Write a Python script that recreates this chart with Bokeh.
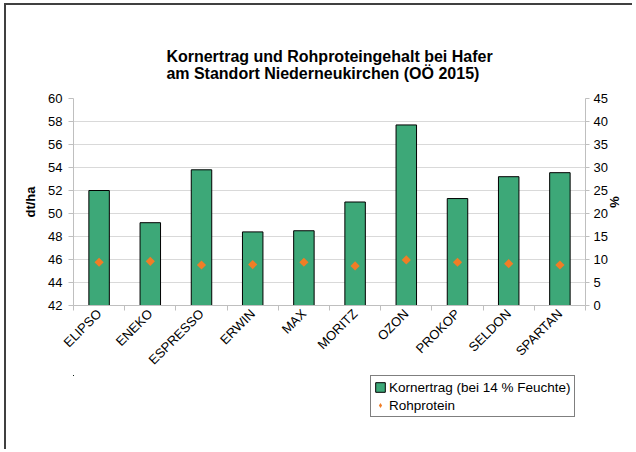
from bokeh.plotting import figure
from bokeh.layouts import column
from bokeh.models import (Range1d, LinearAxis, FixedTicker, Legend, LegendItem,
                          ColumnDataSource)
from bokeh.embed import file_html
from bokeh.resources import INLINE
import math

# ---- data ----
sorten = ["ELIPSO", "ENEKO", "ESPRESSO", "ERWIN", "MAX", "MORITZ", "OZON",
          "PROKOP", "SELDON", "SPARTAN"]
kornertrag = [52.0, 49.2, 53.8, 48.4, 48.5, 51.0, 57.7, 51.3, 53.2, 53.55]  # dt/ha
rohprotein = [9.4, 9.6, 8.8, 8.9, 9.4, 8.6, 9.9, 9.4, 9.1, 8.8]  # %
ertrag_ticks = [42, 44, 46, 48, 50, 52, 54, 56, 58, 60]
protein_ticks = [0, 5, 10, 15, 20, 25, 30, 35, 40, 45]
title_lines = ["Kornertrag und Rohproteingehalt bei Hafer",
               "am Standort Niederneukirchen (OÖ 2015)"]
legend_labels = ["Kornertrag (bei 14 % Feuchte)", "Rohprotein"]

FONT = "Liberation Sans"
GREEN = "#3DA878"
ORANGE = "#F07D26"
GRID = "#D9D9D9"
AXIS = "#BFBFBF"

n = len(sorten)
xpos = [i + 0.5 for i in range(n)]
src = ColumnDataSource(dict(x=xpos, ertrag=kornertrag, protein=rohprotein, name=sorten))

# ---------------- main chart ----------------
p = figure(frame_width=512, frame_height=207, output_backend="svg", toolbar_location=None,
           x_range=Range1d(0, n), y_range=Range1d(ertrag_ticks[0], ertrag_ticks[-1]),
           min_border_left=67, min_border_right=47, min_border_top=93,
           min_border_bottom=10)
p.extra_y_ranges = {"pct": Range1d(protein_ticks[0], protein_ticks[-1])}
p.outline_line_color = None
p.background_fill_color = "white"
p.border_fill_color = "white"

p.title.text = "\n".join(title_lines)
p.title.align = "center"
p.title.text_font = FONT
p.title.text_font_size = "16px"
p.title.text_font_style = "bold"
p.title.text_color = "black"
p.title.standoff = 33

bars = p.vbar(x="x", top="ertrag", bottom=ertrag_ticks[0], width=0.4, source=src,
              fill_color=GREEN, line_color="black", line_width=1)
dots = p.scatter(x="x", y="protein", y_range_name="pct", source=src,
                 marker="square", angle=math.pi / 4, size=6.5,
                 fill_color=ORANGE, line_color=None)

p.xgrid.visible = False
p.ygrid.ticker = FixedTicker(ticks=ertrag_ticks)
p.ygrid.grid_line_color = GRID
p.ygrid.grid_line_width = 1.2

def style_axis(ax):
    ax.axis_line_color = AXIS
    ax.major_tick_line_color = AXIS
    ax.minor_tick_line_color = AXIS
    ax.major_label_text_font = FONT
    ax.major_label_text_font_size = "13px"
    ax.major_label_text_color = "black"
    ax.axis_label_text_font = FONT
    ax.axis_label_text_font_size = "13px"
    ax.axis_label_text_font_style = "bold"
    ax.axis_label_text_color = "black"

ly = p.yaxis[0]
ly.ticker = FixedTicker(ticks=ertrag_ticks)
ly.axis_label = "dt/ha"
style_axis(ly)
ly.major_tick_in = 0
ly.major_tick_out = 5
ly.major_label_standoff = 6
ly.axis_label_standoff = 7

ry = LinearAxis(y_range_name="pct", ticker=FixedTicker(ticks=protein_ticks), axis_label="%")
style_axis(ry)
ry.major_tick_in = 0
ry.major_tick_out = 4
ry.major_label_standoff = 4
ry.axis_label_standoff = -4
p.add_layout(ry, "right")

xa = p.xaxis[0]
xa.ticker = FixedTicker(ticks=xpos, minor_ticks=list(range(n + 1)))
xa.major_label_overrides = {x: s for x, s in zip(xpos, sorten)}
style_axis(xa)
xa.major_tick_line_color = None
xa.major_tick_in = 0
xa.major_tick_out = 5
xa.minor_tick_in = 0
xa.minor_tick_out = 5
xa.major_label_orientation = math.pi / 4
xa.major_label_standoff = 1

# ---------------- legend strip (frame aligned with the chart above) ----------------
q = figure(width=626, height=74, output_backend="svg", toolbar_location=None,
           x_range=Range1d(n + 10, n + 11), y_range=Range1d(-11, -10),
           x_axis_type=None, y_axis_type=None,
           min_border_left=0, min_border_right=0, min_border_top=0, min_border_bottom=0)
q.outline_line_color = None
q.xgrid.visible = False
q.ygrid.visible = False
q.background_fill_color = "white"
q.border_fill_color = "white"
# same series, lying outside this strip's visible ranges: only their legend keys show
leg_bar = q.vbar(x="x", top="ertrag", bottom=ertrag_ticks[0], width=0.4, source=src,
                 fill_color=GREEN, line_color="black", line_width=1)
leg_dot = q.scatter(x="x", y="protein", source=src, marker="diamond",
                    fill_color=ORANGE, line_color=None)

legend = Legend(items=[
    LegendItem(label=legend_labels[0], renderers=[leg_bar]),
    LegendItem(label=legend_labels[1], renderers=[leg_dot]),
], location=(297, 32), orientation="vertical")
legend.border_line_color = "black"
legend.border_line_width = 1
legend.background_fill_color = "white"
legend.background_fill_alpha = 1
legend.label_text_font = FONT
legend.label_text_font_size = "13.5px"
legend.label_text_color = "black"
legend.glyph_width = 12
legend.glyph_height = 12
legend.label_height = 16
legend.label_standoff = 3
legend.spacing = 2
legend.padding = 3
legend.margin = 0
q.add_layout(legend, "center")

layout = column(p, q, spacing=0,
                styles={"margin": "3px 0 0 4px",
                        "border-top": "2px solid #404040",
                        "border-left": "2px solid #404040"})

open("out.html", "w").write(file_html(layout, INLINE))
